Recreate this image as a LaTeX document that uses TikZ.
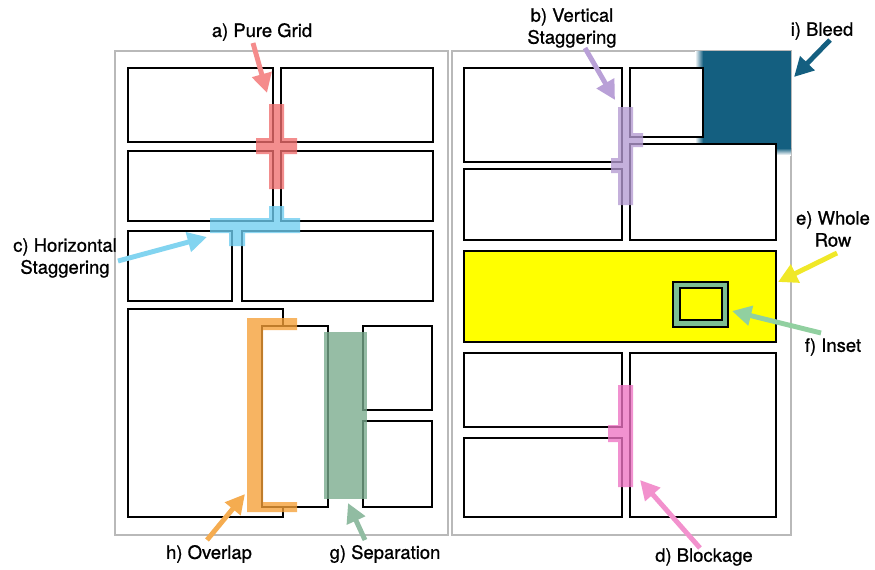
\documentclass[tikz,border=0pt]{standalone}
\usepackage{fontspec}
\setmainfont{TeX Gyre Heros}[FakeBold=0.9]
\usetikzlibrary{arrows.meta}
\definecolor{gridred}{RGB}{240,110,110}
\definecolor{hstagblue}{RGB}{110,205,240}
\definecolor{vstagpurple}{RGB}{180,155,210}
\definecolor{blockpink}{RGB}{238,115,195}
\definecolor{overlaporange}{RGB}{245,160,55}
\definecolor{sepgreen}{RGB}{120,170,140}
\definecolor{insetgreen}{RGB}{125,190,145}
\definecolor{bleedblue}{RGB}{20,95,128}
\definecolor{rowyellow}{RGB}{255,255,0}
% arrow colours
\definecolor{gridarrow}{RGB}{245,140,140}
\definecolor{vstagarrow}{RGB}{185,160,215}
\definecolor{hstagarrow}{RGB}{130,212,240}
\definecolor{blockarrow}{RGB}{242,145,205}
\definecolor{rowarrow}{RGB}{240,232,40}
\definecolor{insetarrow}{RGB}{145,208,160}
\definecolor{separrow}{RGB}{145,188,162}
\definecolor{overlaparrow}{RGB}{245,172,80}
\tikzset{
	panel/.style={draw=black, line width=1.1pt, fill=white},
	page/.style={draw=gray!55, line width=0.7pt},
	hilite/.style={fill=#1, fill opacity=0.78},
	callout/.style={draw=#1, line width=2.8pt, -{Triangle[length=11pt,width=11pt]}},
	lbl/.style={font=\fontsize{10.5}{12.5}\selectfont, align=center, inner sep=1pt}
}
\begin{document}
\begin{tikzpicture}[x=0.02cm, y=-0.02cm]
	\useasboundingbox (0,0) rectangle (875,569);
	%pages
	\draw[page] (115,51) rectangle (448,535);
	\draw[page] (452,51) rectangle (791,535);
	%bleed
	\fill[bleedblue] (703,51) rectangle (791,148);
	\shade[left color=white, right color=bleedblue] (695,51) rectangle (703,148);
	\shade[top color=bleedblue, bottom color=white] (703,148) rectangle (791,155);
	%panels left page
	\foreach \xa/\ya/\xb/\yb in {128/68/273/142, 281/68/433/142,
		128/151/273/221, 281/151/433/221,
		128/231/232/301, 242/231/433/301,
		128/309/283/517, 262/326/328/507,
		363/326/432/410, 363/421/432/507}
	\draw[panel] (\xa,\ya) rectangle (\xb,\yb);
	%panels right page
	\foreach \xa/\ya/\xb/\yb in {464/68/622/162, 630/68/703/137,
		464/169/622/240, 630/144/776/240,
		464/353/622/427, 464/438/622/517, 630/353/776/517}
	\draw[panel] (\xa,\ya) rectangle (\xb,\yb);
	%whole row and inset
	\draw[panel, fill=rowyellow] (464,251) rectangle (776,342);
	\draw[panel, fill=insetgreen] (673,282) rectangle (728,327);
	\draw[panel, fill=rowyellow] (680,288) rectangle (722,320);
	%highlights
	\fill[hilite=gridred] (269,104) rectangle (284,189) (256,138) rectangle (297,154);
	\fill[hilite=hstagblue] (210,218) rectangle (300,233) (269,206) rectangle (284,218)
		(229,233) rectangle (245,246);
	\fill[hilite=overlaporange] (247,318) rectangle (263,512) (263,318) rectangle (297,330)
		(263,502) rectangle (297,512);
	\fill[hilite=sepgreen] (324,332) rectangle (367,499);
	\fill[hilite=vstagpurple] (618,107) rectangle (633,205) (633,133) rectangle (643,147)
		(611,158) rectangle (618,173);
	\fill[hilite=blockpink] (618,385) rectangle (633,487) (608,425) rectangle (618,442);
	%labels
	\node[lbl] (pure grid) at (262,32) {a) Pure Grid};
	\node[lbl] (vert stag) at (572,28) {b) Vertical\\Staggering};
	\node[lbl] (horiz stag) at (65,258) {c) Horizontal\\Staggering};
	\node[lbl] (blockage) at (704,557) {d) Blockage};
	\node[lbl] (whole row) at (833,229) {e) Whole\\Row};
	\node[lbl] (inset) at (833,347) {f) Inset};
	\node[lbl] (separation) at (385,554) {g) Separation};
	\node[lbl] (overlap) at (209,554) {h) Overlap};
	\node[lbl] (bleed) at (822,31) {i) Bleed};
	%arrows
	\coordinate (a tail) at (253,43);  \coordinate (a head) at (267,93);
	\coordinate (b tail) at (585,48);  \coordinate (b head) at (615,100);
	\coordinate (c tail) at (118,261); \coordinate (c head) at (207,237);
	\coordinate (d tail) at (700,548); \coordinate (d head) at (640,480);
	\coordinate (e tail) at (837,253); \coordinate (e head) at (778,282);
	\coordinate (f tail) at (821,333); \coordinate (f head) at (732,311);
	\coordinate (g tail) at (365,540); \coordinate (g head) at (348,503);
	\coordinate (h tail) at (207,540); \coordinate (h head) at (245,494);
	\coordinate (i tail) at (830,40);  \coordinate (i head) at (794,77);
	\draw[callout=gridarrow] (a tail) -- (a head);
	\draw[callout=vstagarrow] (b tail) -- (b head);
	\draw[callout=hstagarrow] (c tail) -- (c head);
	\draw[callout=blockarrow] (d tail) -- (d head);
	\draw[callout=rowarrow] (e tail) -- (e head);
	\draw[callout=insetarrow] (f tail) -- (f head);
	\draw[callout=separrow] (g tail) -- (g head);
	\draw[callout=overlaparrow] (h tail) -- (h head);
	\draw[callout=bleedblue] (i tail) -- (i head);
\end{tikzpicture}
\end{document}
